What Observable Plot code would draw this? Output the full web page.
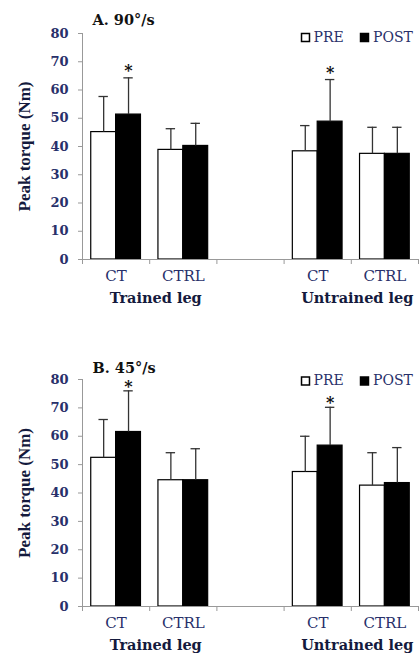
<!DOCTYPE html>
<html><head><meta charset="utf-8">
<script src="https://cdn.jsdelivr.net/npm/d3@7"></script>
<script src="https://cdn.jsdelivr.net/npm/@observablehq/plot@0.6"></script>
<style>body{margin:0;background:#fff} svg{display:block}</style>
</head><body><div id="chart"></div>
<script>
const groups = ["Trained leg", "Untrained leg"];
const conditions = ["CT", "CTRL"];
const series = ["PRE", "POST"];
const yTicks = [0, 10, 20, 30, 40, 50, 60, 70, 80];
const yLabel = "Peak torque (Nm)";

// order: Trained CT, Trained CTRL, Untrained CT, Untrained CTRL
const a90PreMean  = [45.1, 38.8, 38.3, 37.4];
const a90PreSd    = [12.6, 7.5, 9.1, 9.4];
const a90PostMean = [51.3, 40.2, 48.8, 37.4];
const a90PostSd   = [13.0, 8.0, 14.9, 9.4];
const a90Significant = [true, false, true, false];

const b45PreMean  = [52.4, 44.5, 47.4, 42.6];
const b45PreSd    = [13.5, 9.7, 12.6, 11.6];
const b45PostMean = [61.5, 44.5, 56.7, 43.5];
const b45PostSd   = [14.5, 11.1, 13.5, 12.5];
const b45Significant = [true, false, true, false];

const wide = "'DejaVu Serif', serif";
const times = "'Liberation Serif', 'Times New Roman', serif";
const navy = "#28306a";
const ink = "#141a3d";

function panel({title, pre, preSd, post, postSd, sig, height, marginTop, marginBottom, starDy, titleDy, legendDy}) {
  const rows = [];
  groups.forEach((g, gi) => conditions.forEach((c, ci) => {
    const i = gi * conditions.length + ci;
    const slot = gi * (conditions.length + 1) + ci;
    rows.push({group: g, cond: c, slot, series: "PRE", value: pre[i], sd: preSd[i], sig: false});
    rows.push({group: g, cond: c, slot, series: "POST", value: post[i], sd: postSd[i], sig: sig[i]});
  }));
  const nSlots = groups.length * (conditions.length + 1) - 1;
  const yMax = yTicks[yTicks.length - 1];
  const left = d => d.slot + (d.series === "PRE" ? 0.13 : 0.5);
  const right = d => left(d) + 0.37;
  const mid = d => left(d) + 0.185;
  const top = d => d.value + d.sd;
  const cats = rows.filter(d => d.series === "PRE");
  const groupRows = groups.map((g, gi) => ({group: g, x: gi * (conditions.length + 1) + conditions.length / 2}));
  return Plot.plot({
    width: 419, height, marginLeft: 82, marginRight: 1, marginTop, marginBottom,
    style: {background: "white", fontFamily: wide, overflow: "visible"},
    x: {domain: [0, nSlots], axis: null},
    y: {domain: [0, yMax], axis: null},
    color: {domain: series, range: ["white", "black"]},
    marks: [
      Plot.rectY(rows, {x1: left, x2: right, y1: 0, y2: "value", fill: "series", stroke: "black", strokeWidth: 1.2}),
      Plot.ruleX(rows, {x: mid, y1: "value", y2: top, stroke: "#333", strokeWidth: 1.3}),
      Plot.ruleY(rows, {y: top, x1: d => mid(d) - 0.07, x2: d => mid(d) + 0.07, stroke: "#333", strokeWidth: 1.3}),
      Plot.text(rows.filter(d => d.sig), {x: mid, y: top, text: () => "*", dy: starDy, fontSize: 16, fontWeight: "bold", fill: "#111"}),
      Plot.ruleY([0], {x1: 0, x2: nSlots, stroke: "#999"}),
      Plot.ruleX([0], {y1: 0, y2: yMax, stroke: "#999"}),
      Plot.axisY({ticks: yTicks, tickSize: 4, tickPadding: 10, stroke: "#999", fill: navy, fontSize: 13, fontWeight: "bold", label: null}),
      Plot.axisX({ticks: d3.range(nSlots + 1), tickSize: 5, tickFormat: () => "", stroke: "#999", label: null}),
      Plot.text(cats, {x: d => d.slot + 0.5, y: 0, text: "cond", dy: 17, fontSize: 15, fill: navy, lineAnchor: "middle"}),
      Plot.text(groupRows, {x: "x", y: 0, text: "group", dy: 39, dx: 6, fontSize: 14.5, fontWeight: "bold", fill: ink, lineAnchor: "middle"}),
      Plot.text([yLabel], {text: d => d, x: 0, y: yMax / 2, rotate: -90, dx: -58, fontFamily: times, fontSize: 17, fontWeight: "bold", fill: ink}),
      Plot.text([title], {text: d => d, frameAnchor: "top-left", textAnchor: "start", lineAnchor: "middle", dx: 10, dy: titleDy, fontSize: 14.5, fontWeight: "bold", fill: "#111"}),
      Plot.dot([series[0]], {frameAnchor: "top-right", dx: -113, dy: legendDy, symbol: "square", r: 4.5, fill: "white", stroke: "black"}),
      Plot.text([series[0]], {text: d => d, frameAnchor: "top-right", textAnchor: "start", lineAnchor: "middle", dx: -105, dy: legendDy, fontSize: 14, fill: navy}),
      Plot.dot([series[1]], {frameAnchor: "top-right", dx: -54, dy: legendDy, symbol: "square", r: 4.5, fill: "black", stroke: "black"}),
      Plot.text([series[1]], {text: d => d, frameAnchor: "top-right", textAnchor: "start", lineAnchor: "middle", dx: -45.5, dy: legendDy, fontSize: 14, fill: navy})
    ]
  });
}

const chart = document.getElementById("chart");
chart.append(panel({title: "A. 90°/s", pre: a90PreMean, preSd: a90PreSd, post: a90PostMean, postSd: a90PostSd, sig: a90Significant,
  height: 327, marginTop: 33, marginBottom: 68, starDy: -7, titleDy: -13, legendDy: 4}));
chart.append(panel({title: "B. 45°/s", pre: b45PreMean, preSd: b45PreSd, post: b45PostMean, postSd: b45PostSd, sig: b45Significant,
  height: 328, marginTop: 52, marginBottom: 49, starDy: -4, titleDy: -11, legendDy: 1.5}));
</script></body></html>
